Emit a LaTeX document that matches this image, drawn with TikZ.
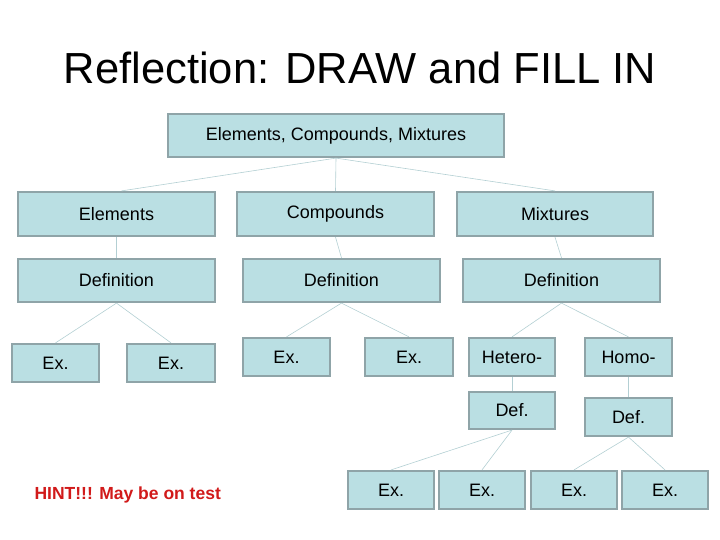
\documentclass[tikz,border=0pt]{standalone}
\usepackage{fontspec}
\setmainfont{Liberation Sans}
\begin{document}
\begin{tikzpicture}[x=1pt,y=-1pt,
  box/.style={draw=boxline,fill=boxfill,line width=2.2pt,inner sep=0pt,font=\fontsize{18}{20}\selectfont},
  link/.style={draw=linkc,line width=0.6pt}]
\definecolor{boxfill}{HTML}{BADFE3}
\definecolor{boxline}{HTML}{8FA4A8}
\definecolor{linkc}{HTML}{B3CFD3}
\definecolor{hintred}{HTML}{D11A1A}
\useasboundingbox (0,0) rectangle (720,540);
\newcommand\bx[6]{\node[box,minimum width=#4-#3,minimum height=#6-#5] (#1) at ({(#3+#4)/2},{(#5+#6)/2}) {#2};}
\node[font=\fontsize{43.5}{48}\selectfont] (title) at (360,68) {Reflection: DRAW and FILL IN};
\bx{top}{Elements, Compounds, Mixtures}{168}{504}{114}{157}
\bx{el}{Elements}{18}{215}{192}{236}
\bx{co}{Compounds}{237}{434}{192}{236}
\bx{mi}{Mixtures}{457}{653}{192}{236}
\bx{d1}{Definition}{18}{215}{259}{302}
\bx{d2}{Definition}{243}{440}{259}{302}
\bx{d3}{Definition}{463}{660}{259}{302}
\bx{e1}{Ex.}{12}{99}{344}{382}
\bx{e2}{Ex.}{127}{215}{344}{382}
\bx{e3}{Ex.}{243}{330}{338}{376}
\bx{e4}{Ex.}{365}{453}{338}{376}
\bx{he}{Hetero-}{469}{555}{338}{376}
\bx{ho}{Homo-}{585}{672}{338}{376}
\bx{dhe}{Def.}{469}{555}{392}{429}
\bx{dho}{Def.}{585}{672}{398}{436}
\bx{b1}{Ex.}{348}{434}{471}{509}
\bx{b2}{Ex.}{439}{525}{471}{509}
\bx{b3}{Ex.}{531}{617}{471}{509}
\bx{b4}{Ex.}{622}{708}{471}{509}
\node[text=hintred,font=\bfseries\fontsize{17.5}{20}\selectfont,anchor=west] (hint) at (31,495) {HINT!!! May be on test};
\path[link] (top.south) -- ([xshift=5pt]el.north);
\path[link] (top.south) -- (co.north);
\path[link] (top.south) -- (mi.north);
\path[link] (el.south) -- (d1.north);
\path[link] (co.south) -- (d2.north);
\path[link] (mi.south) -- (d3.north);
\path[link] (d1.south) -- (e1.north);
\path[link] (d1.south) -- (e2.north);
\path[link] (d2.south) -- (e3.north);
\path[link] (d2.south) -- (e4.north);
\path[link] (d3.south) -- (he.north);
\path[link] (d3.south) -- (ho.north);
\path[link] (he.south) -- (dhe.north);
\path[link] (ho.south) -- (dho.north);
\path[link] (dhe.south) -- (b1.north);
\path[link] (dhe.south) -- (b2.north);
\path[link] (dho.south) -- (b3.north);
\path[link] (dho.south) -- (b4.north);
\end{tikzpicture}
\end{document}
